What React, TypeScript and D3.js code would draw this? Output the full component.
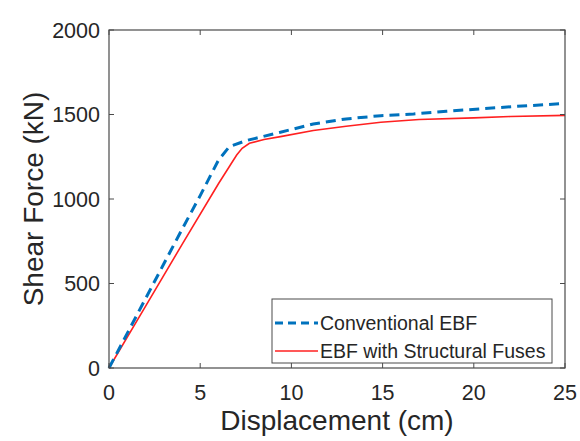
import React from "react";
import * as d3 from "d3";

const conventionalDisp = [0, 1, 2, 3, 4, 5, 6, 6.6, 7.5, 9.4, 11.2, 13, 14.9, 16.7, 18.5, 20.3, 22.2, 25];
const conventionalForce = [0, 205, 410, 615, 820, 1020, 1230, 1310, 1345, 1395, 1444, 1474, 1493, 1503, 1519, 1533, 1547, 1565];

const fuseDisp = [0, 2, 4, 6, 7, 7.3, 7.7, 8.5, 9.4, 11.2, 13, 14.9, 17, 20, 22, 25];
const fuseForce = [0, 365, 730, 1090, 1260, 1300, 1330, 1352, 1369, 1405, 1430, 1454, 1470, 1480, 1488, 1495];

const xTicks = [0, 5, 10, 15, 20, 25];
const yTicks = [0, 500, 1000, 1500, 2000];

const seriesNames = ["Conventional EBF", "EBF with Structural Fuses"];
const xLabel = "Displacement (cm)";
const yLabel = "Shear Force (kN)";

export default function App() {
  const W = 580, H = 441;
  const L = 109, R = 565, T = 30, B = 368;
  const x = d3.scaleLinear().domain([0, 25]).range([L, R]);
  const y = d3.scaleLinear().domain([0, 2000]).range([B, T]);
  const line = d3.line<[number, number]>().x(d => x(d[0])).y(d => y(d[1]));
  const conv = line(conventionalDisp.map((d, i) => [d, conventionalForce[i]]) as [number, number][]) || "";
  const fuse = line(fuseDisp.map((d, i) => [d, fuseForce[i]]) as [number, number][]) || "";
  const axisColor = "#4a4a4a";
  const textColor = "#262626";
  const font = "Liberation Sans, Arial, Helvetica, sans-serif";
  const tl = 5;
  const blue = "#0072BD";
  const red = "#ff2020";
  return (
    <svg width={W} height={H} style={{ position: "absolute", left: 0, top: 0, background: "#fff" }} fontFamily={font}>
      <rect x={0} y={0} width={W} height={H} fill="#fff" />
      <path d={fuse} fill="none" stroke={red} strokeWidth={1.6} />
      <path d={conv} fill="none" stroke={blue} strokeWidth={3} strokeDasharray="10,6" />
      <rect x={L} y={T} width={R - L} height={B - T} fill="none" stroke={axisColor} strokeWidth={1.2} />
      {xTicks.map(t => (
        <g key={"x" + t}>
          <line x1={x(t)} x2={x(t)} y1={B} y2={B - tl} stroke={axisColor} strokeWidth={1} />
          <line x1={x(t)} x2={x(t)} y1={T} y2={T + tl} stroke={axisColor} strokeWidth={1} />
          <text x={x(t)} y={400} textAnchor="middle" fontSize={21.5} fill={textColor}>{t}</text>
        </g>
      ))}
      {yTicks.map(t => (
        <g key={"y" + t}>
          <line x1={L} x2={L + tl} y1={y(t)} y2={y(t)} stroke={axisColor} strokeWidth={1} />
          <line x1={R} x2={R - tl} y1={y(t)} y2={y(t)} stroke={axisColor} strokeWidth={1} />
          <text x={100} y={y(t) + 7.5} textAnchor="end" fontSize={21.5} fill={textColor}>{t}</text>
        </g>
      ))}
      <text x={(L + R) / 2} y={430} textAnchor="middle" fontSize={28} fill={textColor}>{xLabel}</text>
      <text transform={`translate(43,${(T + B) / 2}) rotate(-90)`} textAnchor="middle" fontSize={28} fill={textColor}>{yLabel}</text>
      <g>
        <rect x={272} y={299} width={280} height={64} fill="#fff" stroke={axisColor} strokeWidth={1} />
        <line x1={275} x2={318} y1={323} y2={323} stroke={blue} strokeWidth={3} strokeDasharray="8,5" />
        <text x={320} y={330} fontSize={19.5} fill={textColor}>{seriesNames[0]}</text>
        <line x1={275} x2={318} y1={351} y2={351} stroke={red} strokeWidth={1.6} />
        <text x={320} y={358} fontSize={19.5} fill={textColor}>{seriesNames[1]}</text>
      </g>
    </svg>
  );
}
